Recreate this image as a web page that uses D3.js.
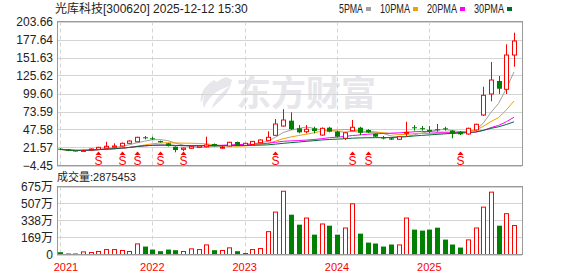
<!DOCTYPE html>
<html>
<head>
<meta charset="utf-8">
<script src="https://cdn.jsdelivr.net/npm/d3@7"></script>
<style>
  body { margin: 0; background: #fff; }
  svg { display: block; }
  text { font-family: "Liberation Sans", Arial, "Noto Sans CJK SC", sans-serif; }
</style>
</head>
<body>
<svg id="chart" width="578" height="276"></svg>
<script>
// monthly K-line, 2021-01 .. 2025-12
const months = [
  '2021-01','2021-02','2021-03','2021-04','2021-05','2021-06','2021-07','2021-08','2021-09','2021-10','2021-11','2021-12',
  '2022-01','2022-02','2022-03','2022-04','2022-05','2022-06','2022-07','2022-08','2022-09','2022-10','2022-11','2022-12',
  '2023-01','2023-02','2023-03','2023-04','2023-05','2023-06','2023-07','2023-08','2023-09','2023-10','2023-11','2023-12',
  '2024-01','2024-02','2024-03','2024-04','2024-05','2024-06','2024-07','2024-08','2024-09','2024-10','2024-11','2024-12',
  '2025-01','2025-02','2025-03','2025-04','2025-05','2025-06','2025-07','2025-08','2025-09','2025-10','2025-11','2025-12'
]
const opens = [
  19.8, 18.9, 17.2, 16.5, 18.5, 18.9, 20.8, 22.0, 23.7, 27.6, 29.9, 36.3,
  34.9, 30.9, 27.6, 22.7, 18.9, 20.4, 21.8, 22.7, 26.6, 21.3, 23.7, 29.5,
  24.7, 26.0, 28.5, 31.4, 39.2, 52.6, 60.3, 49.3, 44.4, 49.3, 39.6, 50.2,
  44.4, 34.9, 45.8, 50.2, 46.9, 41.1, 36.0, 34.9, 33.4, 42.5, 50.8, 49.5,
  47.0, 47.9, 49.3, 45.8, 44.4, 41.1, 46.9, 68.5, 98.9, 117.7, 105.7, 155.2
]
const highs = [
  20.6, 19.4, 17.9, 18.3, 20.2, 22.5, 29.9, 27.6, 28.8, 32.0, 37.0, 38.2,
  37.2, 31.5, 28.0, 23.3, 21.3, 23.3, 24.5, 37.2, 27.3, 23.7, 29.8, 30.2,
  28.3, 31.0, 33.5, 45.0, 62.7, 77.0, 72.4, 54.0, 54.0, 51.6, 50.5, 51.5,
  45.8, 43.5, 61.3, 51.5, 48.0, 42.0, 38.2, 35.8, 38.0, 58.8, 54.0, 52.6,
  52.6, 55.5, 51.6, 46.5, 45.5, 50.2, 56.0, 109.4, 145.1, 124.9, 170.7, 187.5
]
const lows = [
  18.0, 16.3, 15.8, 16.0, 18.0, 18.5, 20.4, 21.5, 23.0, 27.0, 29.5, 33.4,
  32.4, 28.5, 23.0, 14.6, 16.5, 19.8, 21.0, 22.0, 23.0, 19.4, 23.2, 24.0,
  24.0, 25.5, 28.0, 30.9, 38.5, 51.6, 46.9, 42.1, 42.1, 42.1, 38.5, 43.5,
  36.3, 32.4, 45.0, 39.6, 42.5, 36.5, 33.4, 32.4, 32.8, 37.2, 45.8, 45.8,
  42.1, 44.4, 45.8, 34.9, 39.5, 40.0, 46.0, 67.0, 88.3, 98.9, 98.9, 138.3
]
const closes = [
  18.9, 16.9, 16.5, 17.4, 19.4, 21.8, 23.3, 23.7, 27.6, 30.9, 36.3, 34.9,
  33.8, 29.1, 23.7, 17.9, 20.8, 22.7, 23.7, 25.2, 23.7, 22.0, 29.1, 24.7,
  27.6, 30.4, 32.4, 36.3, 55.5, 61.3, 47.9, 43.5, 47.9, 45.4, 49.3, 44.4,
  37.2, 42.9, 50.8, 42.9, 43.5, 37.2, 35.3, 33.0, 37.2, 43.5, 49.8, 48.6,
  44.5, 47.5, 47.9, 41.1, 40.6, 49.3, 55.1, 97.0, 119.1, 106.5, 155.2, 175.5
]
// volume in 万 (10k shares)
const volumes = [
  23, 10, 10, 26, 20, 30, 49, 49, 40, 30, 105, 79,
  49, 33, 49, 43, 30, 56, 49, 95, 43, 40, 66, 33,
  10, 49, 59, 227, 421, 628, 395, 296, 362, 197, 303, 286,
  197, 263, 503, 207, 118, 109, 79, 99, 95, 362, 247, 237,
  247, 266, 148, 99, 69, 145, 263, 470, 619, 286, 405, 287.5453
]
const priceTicks = [-4.45, 21.57, 47.58, 73.59, 99.60, 125.62, 151.63, 177.64, 203.66]
const volTicks = [0, 169, 338, 507, 675]
const yearLabels = ['2021', '2022', '2023', '2024', '2025']
const markerMonths = ['2021-06', '2021-09', '2021-11', '2022-02', '2022-05', '2023-05', '2024-03', '2024-05', '2025-05']
const maPeriods = [5, 10, 20, 30]
const maNames = ['5PMA', '10PMA', '20PMA', '30PMA']
const maColors = ['#a0a0a0', '#f0a000', '#ff00ff', '#006a30']

const UP = '#ff0000', DOWN = '#008000'
const GRID = '#d4d4d4', FRAME = '#9a9a9a'

const svg = d3.select('#chart')

// panels
const P = { left: 57, right: 522, top: 21.5, bottom: 165.5 }
const V = { top: 186.5, bottom: 254.5 }

const x = d3.scalePoint().domain(months).range([60, 514])
const y = d3.scaleLinear().domain([-4.45, 203.66]).range([P.bottom, P.top])
const yv = d3.scaleLinear().domain([0, 675]).range([V.bottom, V.top])
const px = m => Math.round(x(m)) + 0.5

// title + legend
svg.append('text')
  .attr('x', 55).attr('y', 13)
  .style('font-size', '12px').attr('fill', '#222')
  .text('光库科技[300620] 2025-12-12  15:30')

let lx = 339
maNames.forEach((name, k) => {
  const w = name.length * 6
  svg.append('text')
    .attr('x', lx).attr('y', 13)
    .attr('textLength', w).attr('lengthAdjust', 'spacingAndGlyphs')
    .style('font-size', '12px').attr('fill', '#222')
    .text(name)
  svg.append('rect')
    .attr('x', lx + w + 3).attr('y', 7).attr('width', 5).attr('height', 4)
    .attr('fill', maColors[k])
  lx += w + 17
})

// watermark
const wm = svg.append('g').attr('fill', '#e6e6eb')
wm.append('path')
  .attr('d', 'M226,77 C210,84 200,96 204,108 C208,98 216,90 230,86 C222,92 214,100 212,108 C222,100 230,92 232,80 Z')
wm.append('path')
  .attr('d', 'M214,80 C204,86 199,95 201,103 C204,94 209,87 218,83 Z')
wm.append('text')
  .attr('x', 236).attr('y', 106)
  .style('font-family', '"Noto Sans CJK SC", sans-serif')
  .style('font-size', '35px').style('font-weight', 'bold')
  .text('东方财富')

// grids
function drawGrid(top, bottom, yScale, ticks) {
  svg.append('g').selectAll('line').data(ticks).join('line')
    .attr('x1', P.left).attr('x2', P.right)
    .attr('y1', d => Math.round(yScale(d)) + 0.5)
    .attr('y2', d => Math.round(yScale(d)) + 0.5)
    .attr('stroke', GRID)
  svg.append('g').selectAll('line').data(yearLabels).join('line')
    .attr('x1', d => px(d + '-01')).attr('x2', d => px(d + '-01'))
    .attr('y1', top).attr('y2', bottom)
    .attr('stroke', GRID).attr('stroke-dasharray', '4,3')
}
drawGrid(P.top, P.bottom, y, priceTicks)
drawGrid(V.top, V.bottom, yv, volTicks)

// moving averages (window shortened where history runs out)
const idx = d3.range(months.length)
maPeriods.forEach((n, k) => {
  const ma = idx.map(i => d3.mean(closes.slice(Math.max(0, i - n + 1), i + 1)))
  svg.append('path')
    .attr('d', d3.line().x(i => x(months[i])).y(i => y(ma[i]))(idx))
    .attr('fill', 'none').attr('stroke', maColors[k]).attr('stroke-width', 1)
})

// candles
const candles = svg.append('g')
idx.forEach(i => {
  const cx = px(months[i])
  const up = closes[i] >= opens[i]
  const col = up ? UP : DOWN
  candles.append('line')
    .attr('x1', cx).attr('x2', cx)
    .attr('y1', y(highs[i])).attr('y2', y(lows[i]))
    .attr('stroke', col)
  const top = y(Math.max(opens[i], closes[i]))
  const h = Math.max(1, y(Math.min(opens[i], closes[i])) - top)
  if (up) {
    candles.append('rect')
      .attr('x', cx - 2).attr('y', top).attr('width', 4).attr('height', h)
      .attr('fill', '#fff').attr('stroke', col)
  } else {
    candles.append('rect')
      .attr('x', cx - 2.5).attr('y', top).attr('width', 5).attr('height', h)
      .attr('fill', col)
  }
})

// S markers
const mk = svg.append('g').attr('fill', UP)
markerMonths.forEach(m => {
  const cx = px(m)
  mk.append('path').attr('d', `M${cx},151.5 L${cx - 3},155 L${cx + 3},155 Z`)
  mk.append('text')
    .attr('x', cx).attr('y', 164.5).attr('text-anchor', 'middle')
    .style('font-size', '12px')
    .text('S')
})

// volume bars
const vb = svg.append('g')
idx.forEach(i => {
  const cx = px(months[i])
  const up = closes[i] >= opens[i]
  const top = yv(volumes[i])
  if (up) {
    vb.append('rect')
      .attr('x', cx - 2).attr('y', top).attr('width', 4).attr('height', V.bottom - top)
      .attr('fill', '#fff').attr('stroke', UP)
  } else {
    vb.append('rect')
      .attr('x', cx - 2.5).attr('y', top).attr('width', 5).attr('height', V.bottom - top)
      .attr('fill', DOWN)
  }
})

// frames
svg.append('rect')
  .attr('x', P.left + 0.5).attr('y', P.top).attr('width', P.right - P.left).attr('height', P.bottom - P.top)
  .attr('fill', 'none').attr('stroke', FRAME)
svg.append('rect')
  .attr('x', P.left + 0.5).attr('y', V.top).attr('width', P.right - P.left).attr('height', V.bottom - V.top)
  .attr('fill', 'none').attr('stroke', FRAME)

// axes
const ay = svg.append('g').attr('transform', `translate(${P.left},0)`)
  .call(d3.axisLeft(y).tickValues(priceTicks).tickFormat(d3.format('.2f')).tickSize(0).tickPadding(4))
ay.select('.domain').remove()
ay.selectAll('text').style('font-size', '12px').style('font-family', '"Liberation Sans", Arial, sans-serif').attr('fill', '#222')

const av = svg.append('g').attr('transform', `translate(${P.left},0)`)
  .call(d3.axisLeft(yv).tickValues(volTicks).tickFormat(d => d === 0 ? '0' : d + '万').tickSize(0).tickPadding(4))
av.select('.domain').remove()
av.selectAll('text').style('font-size', '12px').style('font-family', '"Liberation Sans", Arial, "Noto Sans CJK SC", sans-serif').attr('fill', '#222')

svg.append('text')
  .attr('x', 57).attr('y', 181)
  .style('font-size', '11px').attr('fill', '#222')
  .text('成交量:' + Math.round(volumes[volumes.length - 1] * 10000))

svg.append('g').selectAll('text').data(yearLabels).join('text')
  .attr('x', d => Math.max(x(d + '-01'), 66)).attr('y', 271)
  .attr('text-anchor', 'middle')
  .style('font-size', '11px').attr('fill', UP)
  .text(d => d)
</script>
</body>
</html>
